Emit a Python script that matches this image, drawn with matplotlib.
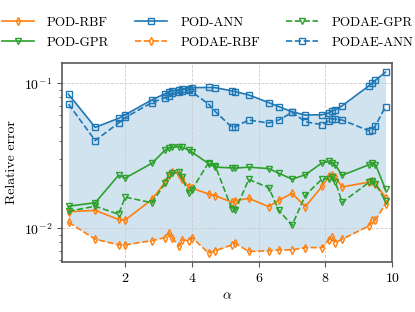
import numpy as np
import matplotlib
matplotlib.use("Agg")
import matplotlib.pyplot as plt

plt.rcParams['font.family'] = 'serif'
plt.rcParams['font.serif'] = ['cmr10']
plt.rcParams['mathtext.fontset'] = 'cm'
plt.rcParams['axes.formatter.use_mathtext'] = True
plt.rcParams['font.size'] = 10

# parametre alpha
alpha = [0.3, 1.1, 1.8, 2.0, 2.8, 3.2, 3.3, 3.4, 3.6, 3.7, 3.9, 4.0, 4.5, 4.7, 5.2,
         5.3, 5.7, 6.3, 6.6, 7.0, 7.4, 7.9, 8.1, 8.2, 8.3, 8.5, 9.3, 9.4, 9.5, 9.8]

pod_rbf = [0.0130, 0.0133, 0.0115, 0.0114, 0.0158, 0.0208, 0.0232, 0.0244, 0.0238, 0.0220,
           0.0193, 0.0189, 0.0172, 0.0168, 0.0151, 0.0155, 0.0161, 0.0141, 0.0156, 0.0174,
           0.0141, 0.0195, 0.0228, 0.0232, 0.0224, 0.0193, 0.0208, 0.0211, 0.0203, 0.0163]
pod_gpr = [0.0142, 0.0150, 0.0232, 0.0222, 0.0281, 0.0347, 0.0357, 0.0362, 0.0366, 0.0362,
           0.0347, 0.0335, 0.0279, 0.0264, 0.0261, 0.0260, 0.0264, 0.0258, 0.0240, 0.0218,
           0.0234, 0.0283, 0.0289, 0.0283, 0.0272, 0.0232, 0.0274, 0.0281, 0.0275, 0.0186]
pod_ann = [0.0841, 0.0497, 0.0573, 0.0607, 0.0769, 0.0849, 0.0872, 0.0890, 0.0900, 0.0910,
           0.0919, 0.0933, 0.0936, 0.0933, 0.0886, 0.0876, 0.0832, 0.0736, 0.0691, 0.0636,
           0.0604, 0.0607, 0.0624, 0.0643, 0.0657, 0.0700, 0.0959, 0.1005, 0.1049, 0.1195]
podae_rbf = [0.0110, 0.00841, 0.00769, 0.00769, 0.00822, 0.00863, 0.00934, 0.00863, 0.00749, 0.00831,
             0.00822, 0.00863, 0.00675, 0.00700, 0.00769, 0.00789, 0.00692, 0.00700, 0.00710, 0.00710,
             0.00736, 0.00736, 0.00831, 0.00875, 0.00796, 0.00841, 0.01037, 0.0114, 0.0114, 0.0148]
podae_gpr = [0.0131, 0.0142, 0.0125, 0.0164, 0.0150, 0.0205, 0.0234, 0.0240, 0.0244, 0.0224,
             0.0175, 0.0185, 0.0284, 0.0269, 0.0135, 0.0133, 0.0217, 0.0191, 0.0133, 0.0105,
             0.0169, 0.0219, 0.0220, 0.0224, 0.0208, 0.0151, 0.0207, 0.0211, 0.0203, 0.0154]
podae_ann = [0.0718, 0.0403, 0.0532, 0.0581, 0.0736, 0.0796, 0.0818, 0.0855, 0.0872, 0.0886,
             0.0895, 0.0872, 0.0718, 0.0638, 0.0497, 0.0502, 0.0558, 0.0532, 0.0558, 0.0629,
             0.0543, 0.0518, 0.0552, 0.0567, 0.0567, 0.0558, 0.0471, 0.0479, 0.0511, 0.0691]

series = [
    ('POD-RBF', pod_rbf, 'C1', 'd', '-'),
    ('POD-GPR', pod_gpr, 'C2', 'v', '-'),
    ('POD-ANN', pod_ann, 'C0', 's', '-'),
    ('PODAE-RBF', podae_rbf, 'C1', 'd', '--'),
    ('PODAE-GPR', podae_gpr, 'C2', 'v', '--'),
    ('PODAE-ANN', podae_ann, 'C0', 's', '--'),
]

fig = plt.figure(figsize=(4.15, 3.12), dpi=100)
ax = fig.add_axes([0.149, 0.160, 0.796, 0.638])

for nom, val, col, mk, ls in series:
    ax.semilogy(alpha, val, color=col, marker=mk, ls=ls, lw=1.2, ms=3.8,
                mfc='none', mew=1.0, label=nom)

tous = np.array([s[1] for s in series])
ax.fill_between(alpha, tous.min(axis=0), tous.max(axis=0), color='C0', alpha=0.2, lw=0)

ax.set_xlim(0.1, 10)
ax.set_xticks([2, 4, 6, 8, 10])
ax.grid(True, which='major', ls='--', lw=0.6, color='0.8')
ax.set_xlabel(r'$\alpha$')
ax.set_ylabel('Relative error')
for sp in ax.spines.values():
    sp.set_color('0.35')
    sp.set_linewidth(1.2)
ax.tick_params(which='both', color='0.35')

fig.legend(loc='upper center', bbox_to_anchor=(0.5, 0.985), ncol=3, frameon=False,
           fontsize=9.5, handlelength=2.4, handletextpad=1.0, columnspacing=2.0,
           labelspacing=0.6)

fig.savefig('out.png', dpi=100)
